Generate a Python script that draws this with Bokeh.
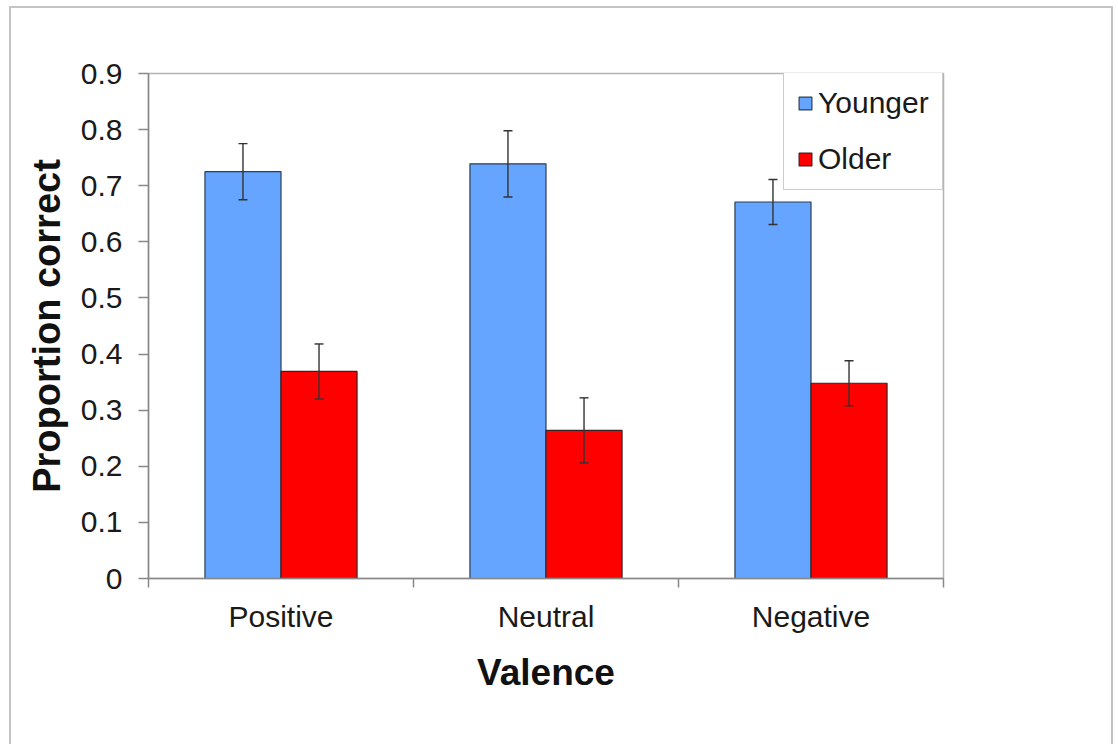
from bokeh.plotting import figure
from bokeh.models import (ColumnDataSource, FixedTicker, Whisker, TeeHead, Legend,
                          LegendItem, Range1d, PrintfTickFormatter)
from bokeh.embed import file_html
from bokeh.resources import INLINE

# ---- data ----
categories = ["Positive", "Neutral", "Negative"]
younger = [0.725, 0.739, 0.671]
younger_err = [0.050, 0.059, 0.040]
older = [0.369, 0.264, 0.348]
older_err = [0.049, 0.058, 0.040]
y_ticks = [0, 0.1, 0.2, 0.3, 0.4, 0.5, 0.6, 0.7, 0.8, 0.9]
series_names = ["Younger", "Older"]

FONT = "Liberation Sans"
BAR_W = 0.287
centers = [i + 0.5 for i in range(len(categories))]

src_y = ColumnDataSource(dict(
    x=[c - BAR_W / 2 for c in centers], top=younger,
    upper=[v + e for v, e in zip(younger, younger_err)],
    lower=[v - e for v, e in zip(younger, younger_err)]))
src_o = ColumnDataSource(dict(
    x=[c + BAR_W / 2 for c in centers], top=older,
    upper=[v + e for v, e in zip(older, older_err)],
    lower=[v - e for v, e in zip(older, older_err)]))

p = figure(width=1104, height=738, output_backend="svg", toolbar_location=None,
           x_range=Range1d(0, len(categories)), y_range=Range1d(0, 0.9),
           min_border_left=137, min_border_right=172, min_border_top=65,
           min_border_bottom=168)
p.styles = {"border-top": "2px solid #c4c4c4", "border-left": "2px solid #c4c4c4",
            "border-right": "2px solid #c4c4c4", "margin-left": "9px",
            "margin-top": "6px"}

p.xgrid.visible = False
p.ygrid.visible = False
p.outline_line_color = "#b4b4b4"
p.outline_line_width = 1.5

r_y = p.vbar(x="x", top="top", width=BAR_W, bottom=0, source=src_y,
             fill_color="#65a5ff", line_color="#2e3e52", line_width=1.2)
r_o = p.vbar(x="x", top="top", width=BAR_W, bottom=0, source=src_o,
             fill_color="#ff0000", line_color="#3a2222", line_width=1.2)

for s in (src_y, src_o):
    w = Whisker(base="x", upper="upper", lower="lower", source=s,
                line_color="#333333", line_width=1.4, level="overlay",
                upper_head=TeeHead(size=9, line_color="#333333", line_width=1.4),
                lower_head=TeeHead(size=9, line_color="#333333", line_width=1.4))
    p.add_layout(w)

# x axis
xa = p.xaxis[0]
xa.ticker = FixedTicker(ticks=centers, minor_ticks=list(range(len(categories) + 1)))
xa.major_label_overrides = {c: name for c, name in zip(centers, categories)}
xa.major_tick_out = 0
xa.major_tick_in = 0
xa.minor_tick_out = 9
xa.minor_tick_in = 0
xa.minor_tick_line_color = "#888888"
xa.minor_tick_line_width = 1.5
xa.axis_line_color = "#888888"
xa.axis_line_width = 1.5
xa.major_label_text_font = FONT
xa.major_label_text_font_size = "30px"
xa.major_label_text_color = "#1a1a1a"
xa.major_label_standoff = 12
xa.axis_label = "Valence"
xa.axis_label_text_font = FONT
xa.axis_label_text_font_style = "bold"
xa.axis_label_text_font_size = "37px"
xa.axis_label_text_color = "#111111"
xa.axis_label_standoff = 16

# y axis
ya = p.yaxis[0]
ya.ticker = FixedTicker(ticks=y_ticks, minor_ticks=[])
ya.formatter = PrintfTickFormatter(format="%.1f")
ya.major_label_overrides = {0: "0"}
ya.major_tick_out = 10
ya.major_tick_in = 0
ya.major_tick_line_color = "#888888"
ya.major_tick_line_width = 1.5
ya.axis_line_color = "#888888"
ya.axis_line_width = 1.5
ya.major_label_text_font = FONT
ya.major_label_text_font_size = "30px"
ya.major_label_text_color = "#1a1a1a"
ya.major_label_standoff = 16
ya.axis_label = "Proportion correct"
ya.axis_label_text_font = FONT
ya.axis_label_text_font_style = "bold"
ya.axis_label_text_font_size = "38px"
ya.axis_label_text_color = "#111111"
ya.axis_label_standoff = 10

legend = Legend(items=[LegendItem(label=series_names[0], renderers=[r_y]),
                       LegendItem(label=series_names[1], renderers=[r_o])],
                location=(635, 388), orientation="vertical")
legend.margin = 0
legend.padding = 13
legend.spacing = 22
legend.glyph_width = 16
legend.glyph_height = 16
legend.label_height = 30
legend.label_standoff = 5
legend.label_text_font = FONT
legend.label_text_font_size = "30px"
legend.label_text_color = "#1a1a1a"
legend.border_line_color = "#999999"
legend.border_line_width = 1.2
legend.background_fill_alpha = 1.0
p.add_layout(legend, "center")

open("out.html", "w").write(file_html(p, INLINE))
